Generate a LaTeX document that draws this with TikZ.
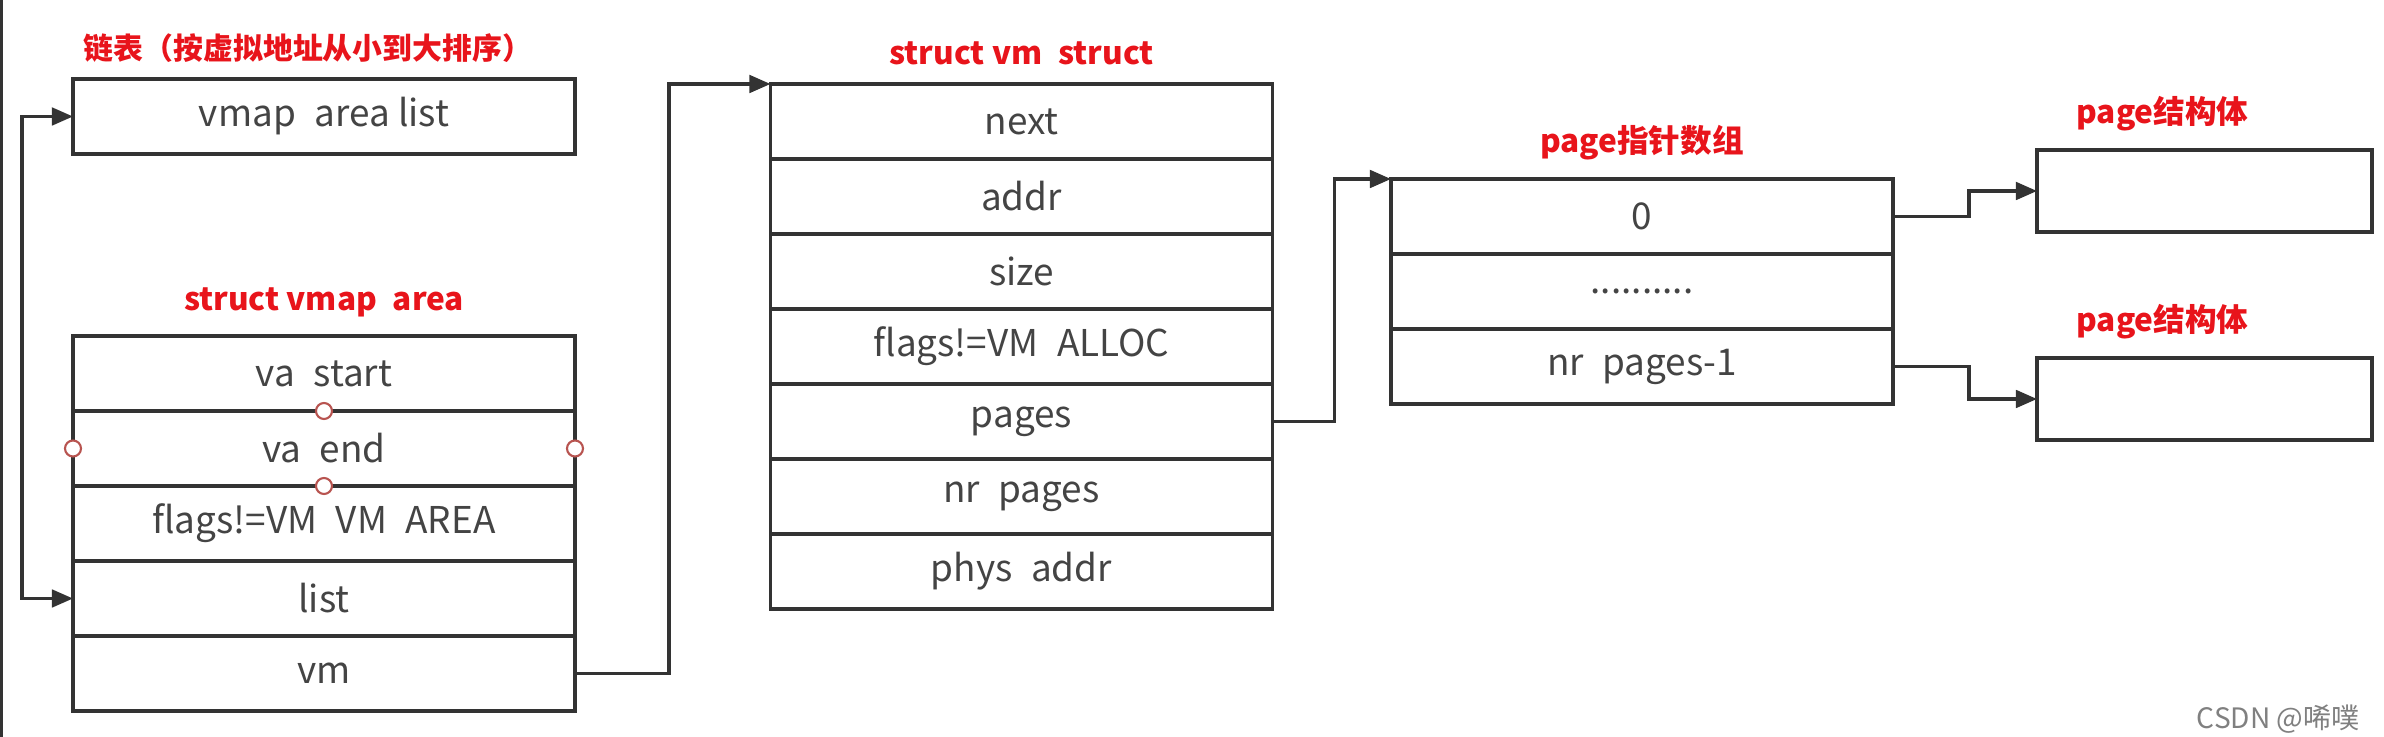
\documentclass[tikz,border=0pt]{standalone}
\usepackage{fontspec}
\setmainfont{Noto Sans CJK SC}
\usetikzlibrary{positioning,arrows.meta}

\definecolor{linegray}{HTML}{333333}
\definecolor{textgray}{HTML}{444444}
\definecolor{titlered}{HTML}{E8141B}
\definecolor{handlered}{HTML}{B85450}

\tikzset{
  field/.style={draw=linegray, line width=0.9pt, outer sep=0pt, inner sep=0pt,
    minimum width=5.02cm, minimum height=0.75cm, text=textgray,
    font=\fontsize{10.5}{12}\selectfont},
  pagebox/.style={draw=linegray, line width=0.9pt, outer sep=0pt,
    minimum width=3.35cm, minimum height=0.82cm},
  title/.style={text=titlered, inner sep=0pt, font=\fontsize{9}{11}\selectfont\bfseries},
  link/.style={draw=linegray, line width=0.9pt, -{Triangle[length=6pt,width=5pt]}},
  handle/.style={circle, draw=handlered, fill=white, line width=0.6pt,
    minimum size=0.16cm, inner sep=0pt}
}

\begin{document}
\begin{tikzpicture}
  \useasboundingbox (0,0) rectangle (23.84,-7.37);
  \fill[linegray] (0,0) rectangle (0.03,-7.37);

  % linked list head
  \node[field] (valist) at (3.24,-1.165) {vmap\enspace area list};
  \node[title, font=\fontsize{8.5}{10}\selectfont\bfseries, above=1.6mm of valist, xshift=-1.6mm]
    {链表（按虚拟地址从小到大排序）};

  % struct vmap_area
  \node[field] (vastart) at (3.24,-3.735) {va\enspace start};
  \node[field, below=0pt of vastart] (vaend) {va\enspace end};
  \node[field, below=0pt of vaend] (vaflags) {flags!=VM\enspace VM\enspace AREA};
  \node[field, below=0pt of vaflags] (list) {list};
  \node[field, below=0pt of list] (vm) {vm};
  \node[title, above=1.8mm of vastart] {struct vmap\enspace area};
  \foreach \a in {north,south,west,east}
    \node[handle] at (vaend.\a) {};

  % struct vm_struct
  \node[field] (next) at (10.215,-1.215) {next};
  \node[field, below=0pt of next] (addr) {addr};
  \node[field, below=0pt of addr] (size) {size};
  \node[field, below=0pt of size] (vmflags) {flags!=VM\enspace ALLOC};
  \node[field, below=0pt of vmflags] (pages) {pages};
  \node[field, below=0pt of pages] (nrpages) {nr\enspace pages};
  \node[field, below=0pt of nrpages] (physaddr) {phys\enspace addr};
  \node[title, above=1.8mm of next] {struct vm\enspace struct};

  % page pointer array
  \node[field] (zero) at (16.42,-2.165) {0};
  \node[field, below=0pt of zero] (dots) {..........};
  \node[field, below=0pt of dots] (last) {nr\enspace pages-1};
  \node[title, above=1.8mm of zero] {page指针数组};

  % struct page
  \node[pagebox] (pgone) at (22.045,-1.91) {};
  \node[title, above=1.8mm of pgone, xshift=-4.2mm] {page结构体};
  \node[pagebox] (pgtwo) at (22.045,-3.99) {};
  \node[title, above=1.8mm of pgtwo, xshift=-4.2mm] {page结构体};

  % connectors
  \draw[link, {Triangle[length=6pt,width=5pt]}-{Triangle[length=6pt,width=5pt]}]
    (valist.west) -- ++(-0.51,0) |- (list.west);
  \draw[link] (vm.east) -- ++(0.94,0) |- (next.north west);
  \draw[link] (pages.east) -- ++(0.62,0) |- (zero.north west);
  \draw[link] (zero.east) -- ++(0.76,0) |- (pgone.west);
  \draw[link] (last.east) -- ++(0.76,0) |- (pgtwo.west);

  \node[text=gray, font=\fontsize{8}{9}\selectfont, anchor=east] (mark) at (23.72,-7.19) {CSDN @唏噗};
\end{tikzpicture}
\end{document}
